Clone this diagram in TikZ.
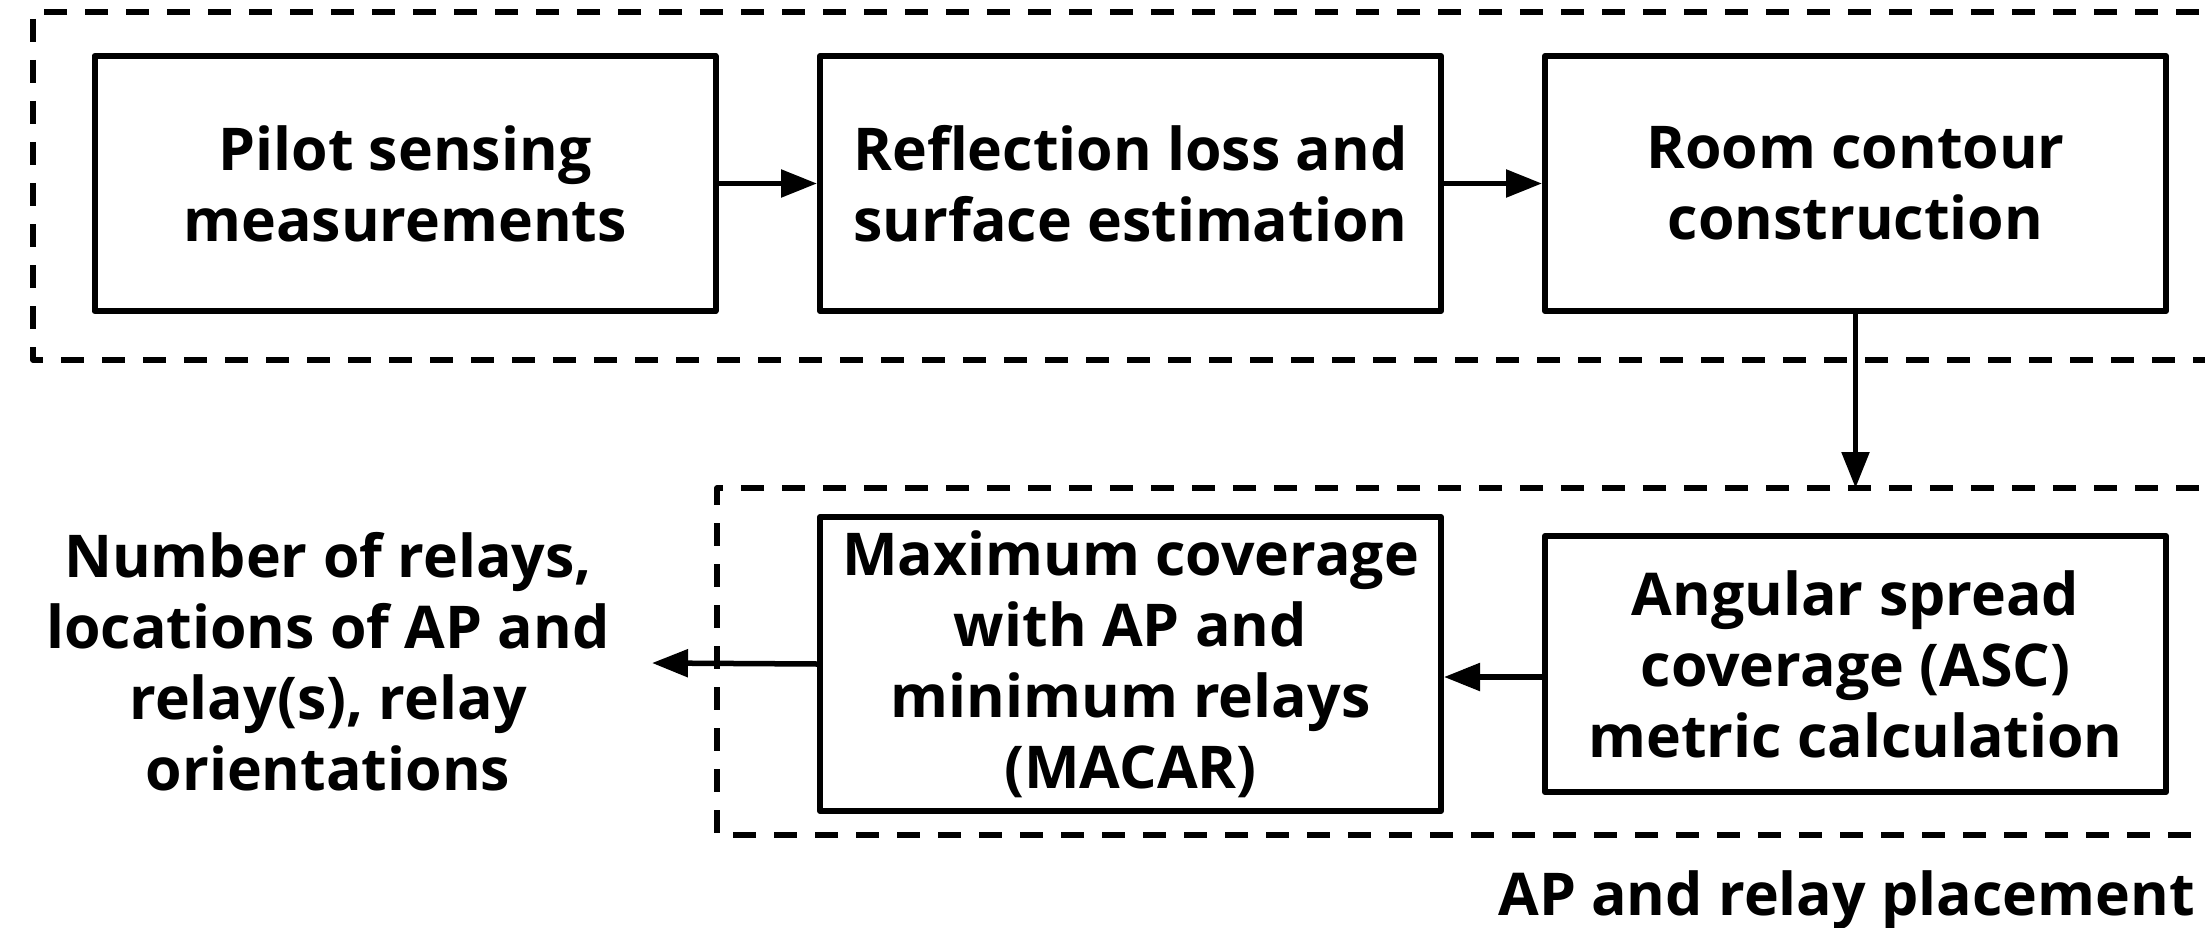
\documentclass[tikz,border=0pt]{standalone}
\usepackage{fontspec}
\setmainfont{Open Sans}
\usetikzlibrary{arrows.meta,calc}
\begin{document}
\begin{tikzpicture}[x=1pt,y=-1pt,
  blockbox/.style={draw,line width=6pt,line join=round,minimum width=621pt,align=center,inner sep=0pt,
    font=\fontsize{59}{71}\selectfont\bfseries},
  groupline/.style={draw,line width=5.5pt,dash pattern=on 23pt off 18pt,line join=round},
  flow/.style={line width=5.5pt,-{Triangle[length=36pt,width=27pt]}},
  plaintext/.style={align=center,inner sep=0pt,font=\fontsize{59}{71}\selectfont\bfseries}]
\useasboundingbox (0,0) rectangle (2205,928);
\clip (0,0) rectangle (2205,928);
% group outlines
\draw[groupline] (2240,12) -- (33,12) -- (33,360) -- (2240,360);
\draw[groupline] (2240,488) -- (717,488) -- (717,835) -- (2240,835);
% blocks
\node[blockbox,minimum height=255pt] (pilot) at (405,183.5) {Pilot sensing\\measurements};
\node[blockbox,minimum height=255pt] (refl) at (1130.5,183.5) {Reflection loss and\\surface estimation};
\node[blockbox,minimum height=255pt] (room) at (1855.5,183.5) {Room contour\\construction};
\node[blockbox,minimum height=294pt] (macar) at (1130.5,664) {Maximum coverage\\with AP and\\minimum relays\\(MACAR)};
\node[blockbox,minimum height=256pt] (asc) at (1855.5,664) {Angular spread\\coverage (ASC)\\metric calculation};
\node[plaintext] (out) at (328,662) {Number of relays,\\locations of AP and\\relay(s), relay\\orientations};
\node[plaintext,anchor=base east] (grp) at (2195,915) {AP and relay placement};
\coordinate (outtip) at (652,663);
\coordinate (grptop) at (room.south |- 0,488);
% connectors
\draw[flow] (pilot) -- (refl);
\draw[flow] (refl) -- (room);
\draw[flow] (room.south) -- (grptop);
\draw[flow] ([yshift=-13pt]asc.west) -- ([yshift=-13pt]macar.east);
\draw[flow] (macar.west) -- (outtip);
\end{tikzpicture}
\end{document}
